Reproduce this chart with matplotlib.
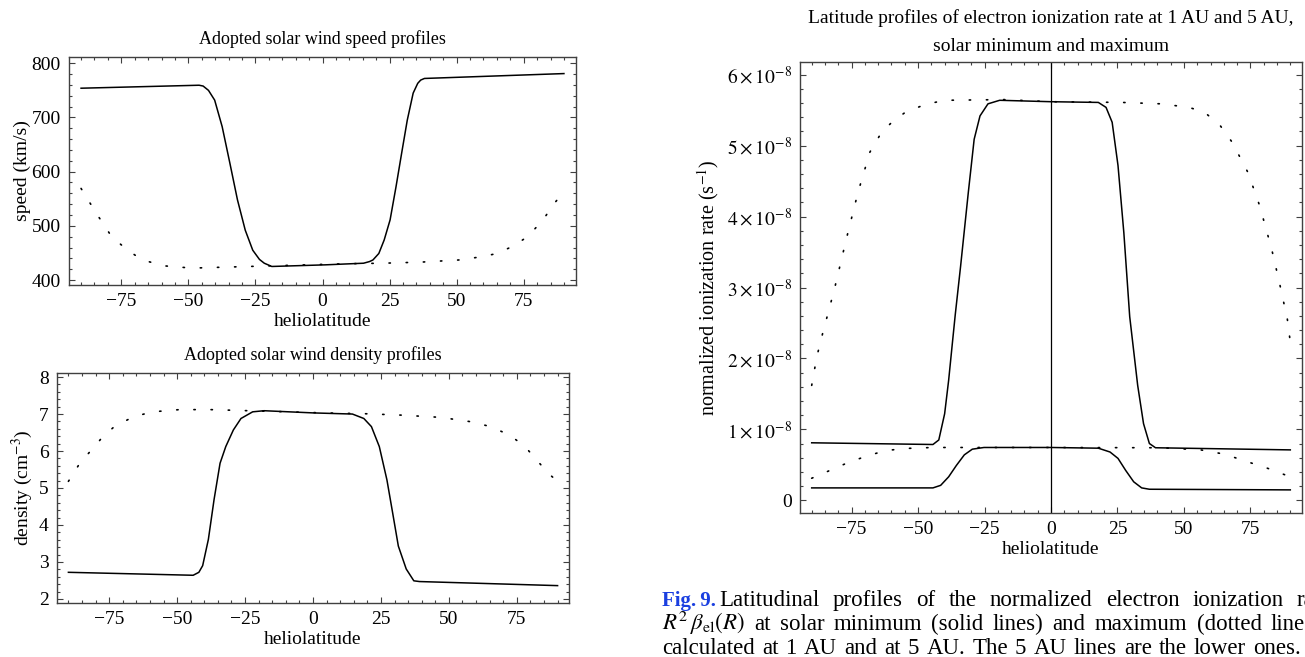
import numpy as np
import matplotlib
matplotlib.use("Agg")
import matplotlib.pyplot as plt
from matplotlib.ticker import MultipleLocator, FixedLocator

plt.rcParams["font.family"] = ["Liberation Serif", "DejaVu Serif"]
plt.rcParams["mathtext.fontset"] = "stix"

# ---------------- data ----------------
# speed, solar minimum (solid)
spd_min_lat = [-90, -46, -44.5, -42.5, -40.2, -37.4, -34.5, -31.7, -28.8, -26, -23.5, -21.7, -18.9,
               1, 15.3, 17.5, 18.8, 21, 23, 25.2, 27.4, 29.5, 31.6, 33.8, 35.5, 36.6, 38, 90]
spd_min_val = [754, 759.5, 758, 750, 732, 683, 615, 548, 492, 455, 438, 431, 425,
               428, 431, 434, 437, 449, 474, 511, 572, 634, 695, 745, 763, 769, 772, 781]
# speed, solar maximum (dotted)
spd_max_lat = [-90, -84.3, -78.6, -72.9, -67.2, -58.7, -48.7, -34.5, -20.3, -6.1, 8.2, 22.4,
               36.6, 50.9, 59.4, 65.1, 70.8, 76.5, 82.2, 86.5, 90]
spd_max_val = [569, 523, 480, 456, 437, 426, 422, 424, 426, 428, 430, 431,
               433, 437, 443, 449, 462, 480, 511, 542, 563]

# density, solar minimum (solid)
den_min_lat = [-90, -44.1, -42, -40.6, -38.5, -36.4, -34.2, -32.1, -29.3, -26.5, -22.2, -18,
               0.35, 14.5, 18.7, 21.5, 24.4, 27.2, 29.3, 31.4, 34.3, 37.1, 39.2, 90]
den_min_val = [2.72, 2.64, 2.72, 2.90, 3.61, 4.69, 5.67, 6.12, 6.57, 6.88, 7.06, 7.09,
               7.03, 7.00, 6.88, 6.66, 6.12, 5.22, 4.33, 3.43, 2.81, 2.49, 2.47, 2.36]
# density, solar maximum (dotted)
den_max_lat = [-90, -85.8, -81.5, -77.3, -73.1, -66, -58.9, -49.1, -37.8, -23.7, -9.5, 4.6,
               18.7, 32.8, 47, 58.3, 65.3, 72.4, 78, 82.3, 86.5, 90]
den_max_val = [5.18, 5.67, 6.03, 6.39, 6.66, 6.93, 7.06, 7.12, 7.12, 7.09, 7.06, 7.03,
               7.01, 6.97, 6.91, 6.79, 6.66, 6.43, 6.12, 5.76, 5.40, 5.18]

# ionization rate (units of 1e-8 s^-1), 1 AU solar minimum (solid)
ion1_min_lat = [-90, -44.4, -42.2, -40, -38.5, -37, -36, -34, -31.1, -28.9, -26.7, -23.7, -19.3,
                0, 17.8, 20.7, 23, 25.2, 27.4, 29.6, 32.6, 34.8, 37, 39.3, 90]
ion1_min_val = [0.81, 0.786, 0.85, 1.22, 1.69, 2.25, 2.62, 3.30, 4.34, 5.09, 5.42, 5.59, 5.64,
                5.62, 5.61, 5.54, 5.33, 4.72, 3.77, 2.59, 1.62, 1.08, 0.80, 0.74, 0.71]
# 1 AU solar maximum (dotted)
ion1_max_lat = [-90, -88.1, -85.9, -81.5, -77, -72.6, -68.1, -63.7, -59.3, -54.8, -47.4, -40,
                -17.8, 0, 26.7, 41.5, 51.9, 57.8, 63.7, 68.1, 74.1, 78.5, 83, 85.9, 88.9, 90]
ion1_max_val = [1.62, 2.02, 2.35, 2.97, 3.68, 4.34, 4.91, 5.19, 5.35, 5.47, 5.58, 5.64,
                5.65, 5.62, 5.61, 5.59, 5.54, 5.47, 5.28, 5.05, 4.62, 4.15, 3.54, 3.07, 2.55, 2.23]
# 5 AU solar minimum (solid)
ion5_min_lat = [-90, -44.4, -41.5, -38.5, -35.6, -32.6, -29.6, -25.2, 0, 17.8, 22.2, 25.2,
                28.1, 31.1, 34.1, 37, 90]
ion5_min_val = [0.174, 0.174, 0.21, 0.33, 0.49, 0.64, 0.72, 0.744, 0.744, 0.734, 0.68, 0.59,
                0.42, 0.26, 0.174, 0.155, 0.146]
# 5 AU solar maximum (dotted)
ion5_max_lat = [-90, -84.4, -77, -69.6, -62.2, -54.8, -44.4, 0, 41.5, 56.3, 65.2, 74.1, 81.5, 90]
ion5_max_val = [0.31, 0.40, 0.52, 0.62, 0.70, 0.73, 0.744, 0.744, 0.74, 0.71, 0.65, 0.54, 0.45, 0.33]

ion_ticks = [0, 1, 2, 3, 4, 5, 6]
ion_labels = ["0"] + [rf"${k}\times10^{{-8}}$" for k in ion_ticks[1:]]

# caption words, one list per printed line
caption_lines = [
    ["Latitudinal", "profiles", "of", "the", "normalized", "electron", "ionization", "rate"],
    [r"$R^2\,\beta_\mathrm{el}(R)$", "at", "solar", "minimum", "(solid", "lines)", "and",
     "maximum", "(dotted", "lines)"],
    ["calculated", "at", "1", "AU", "and", "at", "5", "AU.", "The", "5", "AU", "lines", "are",
     "the", "lower", "ones."],
]

W, H = 1305, 657
fig = plt.figure(figsize=(W / 100, H / 100), dpi=100)

SOLID = dict(color="black", lw=1.1)
DOTS = dict(color="black", lw=1.2, linestyle=(0, (0.8, 9.5)), dash_capstyle="round")
FRAME = "0.25"
TICK_FS = 14
LABEL_FS = 14


def frame_axes(ax, xminor, ymajor, yminor):
    ax.xaxis.set_major_locator(FixedLocator([-75, -50, -25, 0, 25, 50, 75]))
    ax.xaxis.set_minor_locator(MultipleLocator(xminor))
    ax.yaxis.set_major_locator(MultipleLocator(ymajor))
    ax.yaxis.set_minor_locator(MultipleLocator(yminor))
    ax.tick_params(which="both", direction="in", top=True, right=True,
                   colors=FRAME, labelcolor="black", labelsize=TICK_FS, width=0.8, pad=6)
    ax.tick_params(which="major", length=4.5)
    ax.tick_params(which="minor", length=2.5)
    for s in ax.spines.values():
        s.set_color(FRAME)
        s.set_linewidth(1.0)


def px_axes(left, top, right, bottom):
    return fig.add_axes([left / W, 1 - bottom / H, (right - left) / W, (bottom - top) / H])


# speed panel
ax1 = px_axes(69, 57, 576, 285)
ax1.plot(spd_min_lat, spd_min_val, **SOLID)
ax1.plot(spd_max_lat, spd_max_val, **DOTS)
ax1.set_xlim(-94.5, 94.5)
ax1.set_ylim(390.8, 811.6)
frame_axes(ax1, 5, 100, 20)
ax1.set_title("Adopted solar wind speed profiles", fontsize=13, pad=9)
ax1.set_xlabel("heliolatitude", fontsize=LABEL_FS, labelpad=2)
ax1.set_ylabel("speed (km/s)", fontsize=LABEL_FS, labelpad=0)

# density panel
ax2 = px_axes(57, 373, 569, 603)
ax2.plot(den_min_lat, den_min_val, **SOLID)
ax2.plot(den_max_lat, den_max_val, **DOTS)
ax2.set_xlim(-94.2, 94.2)
ax2.set_ylim(1.89, 8.11)
frame_axes(ax2, 5, 1, 0.2)
ax2.set_title("Adopted solar wind density profiles", fontsize=13, pad=9)
ax2.set_xlabel("heliolatitude", fontsize=LABEL_FS, labelpad=2)
ax2.set_ylabel(r"density (cm$^{-3}$)", fontsize=LABEL_FS, labelpad=3)

# ionization rate panel
ax3 = px_axes(800, 62, 1302, 513)
ax3.axvline(0, color="black", lw=0.9)
ax3.plot(ion1_min_lat, ion1_min_val, **SOLID)
ax3.plot(ion1_max_lat, ion1_max_val, **DOTS)
ax3.plot(ion5_min_lat, ion5_min_val, **SOLID)
ax3.plot(ion5_max_lat, ion5_max_val, **DOTS)
ax3.set_xlim(-94.4, 94.4)
ax3.set_ylim(-0.18, 6.18)
frame_axes(ax3, 5, 1, 0.2)
ax3.set_yticks(ion_ticks)
ax3.set_yticklabels(ion_labels)
ax3.set_title("Latitude profiles of electron ionization rate at 1 AU and 5 AU,\nsolar minimum and maximum",
              fontsize=14, pad=8, linespacing=1.8)
ax3.set_xlabel("heliolatitude", fontsize=LABEL_FS, labelpad=2)
ax3.set_ylabel(r"normalized ionization rate (s$^{-1}$)", fontsize=14.5, labelpad=4)

# caption, justified word by word and cut by the page edge as in the reference
renderer = fig.canvas.get_renderer()
CAP_FS = 16.5


def justified_line(words, x0, x_last, y, last_is_start=True):
    arts = [fig.text(0, 1 - y / H, w, fontsize=CAP_FS, va="baseline", ha="left") for w in words]
    widths = [a.get_window_extent(renderer).width for a in arts]
    used = sum(widths[:-1]) if last_is_start else sum(widths)
    gap = (x_last - x0 - used) / (len(words) - 1)
    x = x0
    for a, w in zip(arts, widths):
        a.set_x(x / W)
        x += w + gap


fig.text(662 / W, 1 - 606 / H, "Fig.\u20099.", color="#1a3fe0", fontweight="bold",
         fontsize=15, va="baseline", ha="left")
justified_line(caption_lines[0], 719, 1297, 606)
justified_line(caption_lines[1], 662, 1271, 630)
justified_line(caption_lines[2], 662, 1301, 654, last_is_start=False)

fig.savefig("out.png", dpi=100)
